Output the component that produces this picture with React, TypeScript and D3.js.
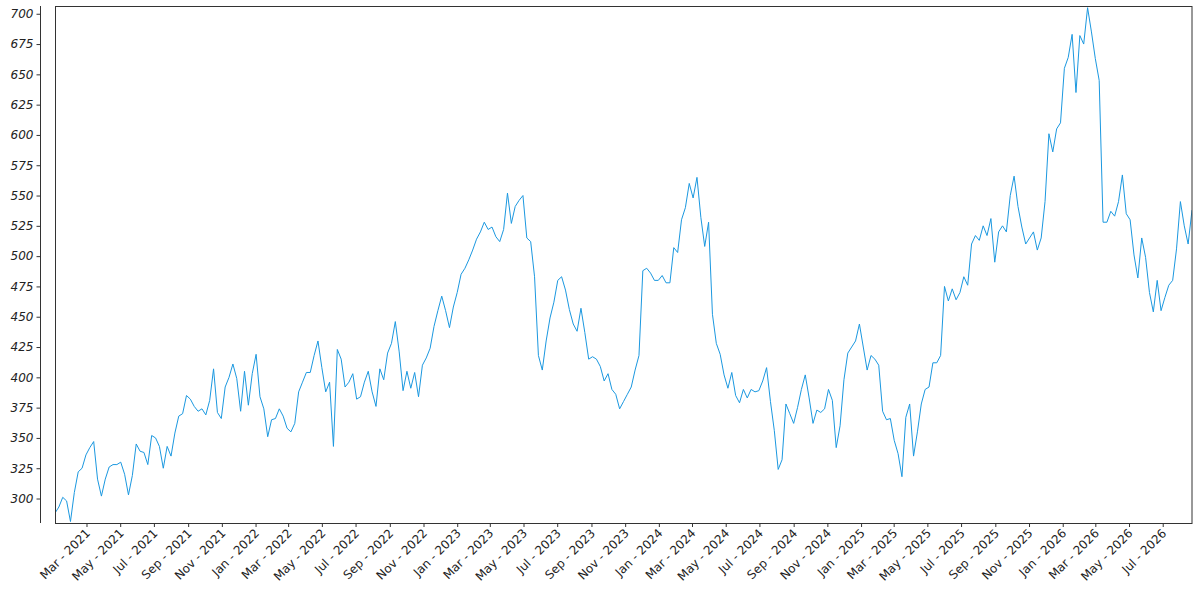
import React, { useEffect, useRef } from 'react';
import * as d3 from 'd3';

// weekly closing values, first week starts 3 Jan 2021
const weekly2021 = [
  288, 293, 301, 298, 281, 305, 322, 325, 336, 342, 347, 316, 302, 316, 326, 328,
  328, 330, 320, 303, 319, 345, 339, 338, 328, 352, 350, 343, 325, 343, 335, 354,
  368, 370, 385, 382, 376, 372, 374, 369, 381, 407, 371, 366, 392, 400, 411, 399,
  372, 405, 377, 403,
];
const weekly2022 = [
  419, 384, 374, 351, 365, 366, 374, 368, 358, 355, 362, 388, 396, 404, 404, 418,
  430, 408, 388, 396, 343, 423, 415, 392, 396, 403, 382, 384, 396, 405, 388, 376,
  407, 398, 420, 428, 446, 421, 389, 405, 391, 404, 384, 410, 416, 424, 442, 455,
  467, 455, 441, 458,
];
const weekly2023 = [
  470, 485, 490, 497, 505, 514, 520, 528, 522, 524, 516, 512, 522, 552, 527, 541,
  546, 550, 515, 512, 483, 418, 406, 430, 449, 462, 480, 483, 472, 456, 444, 438,
  457, 437, 415, 417, 415, 409, 397, 403, 390, 386, 374, 380, 386, 392, 406, 418,
  488, 490, 486, 480,
];
const weekly2024 = [
  480, 484, 478, 478, 507, 503, 530, 540, 560, 548, 565, 532, 508, 528, 452, 428,
  419, 402, 391, 404, 385, 379, 390, 383, 390, 388, 389, 397, 408, 380, 356, 324,
  332, 378, 370, 362, 375, 390, 402, 383, 362, 373, 371, 374, 390, 381, 342, 360,
  398, 420, 425, 430,
];
const weekly2025 = [
  444, 425, 406, 418, 415, 410, 372, 365, 366, 348, 337, 318, 367, 378, 335, 355,
  378, 390, 392, 412, 412, 418, 475, 463, 473, 464, 470, 483, 476, 510, 517, 513,
  525, 517, 531, 495, 520, 525, 520, 550, 566, 541, 524, 510, 515, 520, 505, 515,
  545, 601, 586, 605,
];
const weekly2026 = [
  610, 655, 664, 683, 635, 682, 675, 705, 685, 663, 645, 528, 528, 537, 533, 545,
  567, 535, 530, 501, 482, 515, 499, 470, 454, 480, 455, 466, 476, 480, 506, 545,
  525, 510, 538,
];

const values = [...weekly2021, ...weekly2022, ...weekly2023, ...weekly2024, ...weekly2025, ...weekly2026];
const firstWeek = new Date(2021, 0, 3);
const yTicks = d3.range(300, 701, 25);

const width = 1200;
const height = 600;
const frame = { left: 55, right: 1192, top: 6, bottom: 523 };
const yAxisX = 40;

const PriceChart: React.FC = () => {
  const ref = useRef<SVGSVGElement | null>(null);

  useEffect(() => {
    if (!ref.current) return;
    const svg = d3.select(ref.current);
    svg.selectAll('*').remove();

    const data = values.map((v, i) => ({ date: d3.timeDay.offset(firstWeek, i * 7), value: v }));

    const x = d3
      .scaleTime()
      .domain([data[0].date, data[data.length - 1].date])
      .range([frame.left, frame.right]);
    const y = d3.scaleLinear().domain([279.8, 706.4]).range([frame.bottom, frame.top]);

    svg.append('rect').attr('width', width).attr('height', height).attr('fill', '#fff');

    svg
      .append('clipPath')
      .attr('id', 'plot-clip')
      .append('rect')
      .attr('x', frame.left)
      .attr('y', frame.top)
      .attr('width', frame.right - frame.left)
      .attr('height', frame.bottom - frame.top);

    const line = d3
      .line<{ date: Date; value: number }>()
      .x(d => x(d.date))
      .y(d => y(d.value));

    svg
      .append('path')
      .datum(data)
      .attr('clip-path', 'url(#plot-clip)')
      .attr('fill', 'none')
      .attr('stroke', '#1b98e0')
      .attr('stroke-width', 1)
      .attr('stroke-linejoin', 'round')
      .attr('d', line);

    // frame
    svg
      .append('rect')
      .attr('x', frame.left + 0.5)
      .attr('y', frame.top + 0.5)
      .attr('width', frame.right - frame.left - 0.5)
      .attr('height', frame.bottom - frame.top)
      .attr('fill', 'none')
      .attr('stroke', '#333')
      .attr('stroke-width', 1);

    // y axis, pulled away from the frame
    const yAxis = svg
      .append('g')
      .attr('transform', `translate(${yAxisX + 0.5},0)`)
      .call(d3.axisLeft(y).tickValues(yTicks).tickSize(4).tickPadding(3).tickFormat(d3.format('d')));
    yAxis.select('.domain').attr('stroke', '#333').attr('d', `M0,${frame.top}V${frame.bottom}`);
    yAxis.selectAll('.tick line').attr('stroke', '#333');
    yAxis
      .selectAll('.tick text')
      .attr('fill', '#222')
      .style('font-family', '"DejaVu Sans", sans-serif')
      .style('font-style', 'italic')
      .style('font-size', '12px');

    // x axis
    const fmt = d3.timeFormat('%b - %Y');
    const xAxis = svg
      .append('g')
      .attr('transform', `translate(0,${frame.bottom})`)
      .call(d3.axisBottom(x).ticks(d3.timeMonth.every(2)).tickSize(4).tickFormat(d => fmt(d as Date)));
    xAxis.select('.domain').remove();
    xAxis.selectAll('.tick line').attr('stroke', '#333');
    xAxis
      .selectAll('.tick text')
      .attr('fill', '#222')
      .attr('text-anchor', 'end')
      .attr('transform', 'translate(1,8) rotate(-45)')
      .attr('y', 0)
      .attr('dy', '0.35em')
      .style('font-family', '"DejaVu Sans", sans-serif')
      .style('font-size', '12px');
  }, []);

  return <svg ref={ref} width={width} height={height} style={{ display: 'block' }} />;
};

export default function App() {
  return (
    <div style={{ position: 'absolute', left: 0, top: 0 }}>
      <PriceChart />
    </div>
  );
}
